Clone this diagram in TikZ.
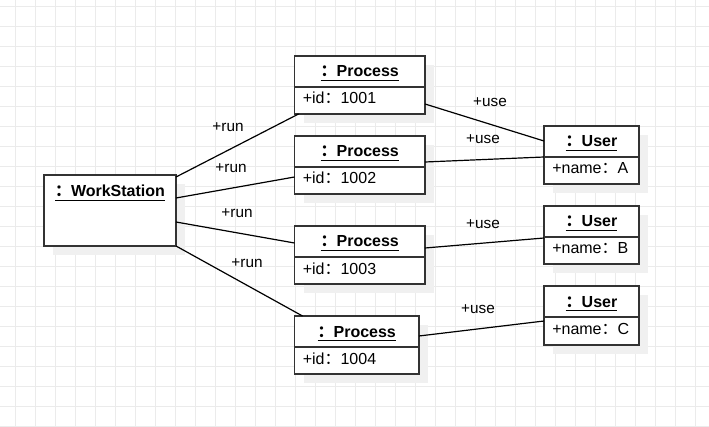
\documentclass[tikz,border=0pt]{standalone}
\usepackage{fontspec}
\setmainfont{Liberation Sans}
\newfontfamily\cjkfont{Noto Sans CJK SC}
\usetikzlibrary{calc,shadows}
\newcommand{\ulin}[1]{\setbox0\hbox{#1}\rlap{\rule[-2.7pt]{\wd0}{0.8pt}}\box0}
\newcommand{\cc}{{\cjkfont ：}}
\tikzset{
  gridline/.style={draw=black!8, line width=0.75pt},
  objbox/.style={draw=black!80, line width=1.1pt, fill=white, outer sep=0pt, inner sep=0pt,
    general shadow={fill=black!6, shadow xshift=6.75pt, shadow yshift=-6.75pt}},
  divline/.style={draw=black!80, line width=1.1pt},
  titletext/.style={font=\fontsize{12}{14}\selectfont\bfseries, anchor=base, inner sep=0pt},
  attrtext/.style={font=\fontsize{12}{14}\selectfont, anchor=base west, inner sep=0pt},
  conn/.style={draw=black, line width=0.9pt},
  lbl/.style={font=\fontsize{11.5}{13}\selectfont, inner sep=0pt},
}
\newcommand{\objnode}[8]{%
  \node[objbox, minimum width=#4*0.75pt, minimum height=#5*0.75pt] (#1) at (#2+#4/2, #3+#5/2) {};
  \draw[divline] ($(#1.north west)+(0,#6)$) -- ($(#1.north east)+(0,#6)$);
  \node[titletext] (#1-t) at ($(#1.north)+(0,21)$) {\ulin{\cc #7}};
  \node[attrtext] (#1-a) at ($(#1.north west)+(8,48)$) {#8};
}
\begin{document}
\begin{tikzpicture}[x=0.75pt, y=-0.75pt]
  \useasboundingbox (0,0) rectangle (709,427);
  \fill[white] (0,0) rectangle (709,427);
  \foreach \i in {0,...,34} \draw[gridline] (15.5+20*\i,0) -- (15.5+20*\i,427);
  \foreach \j in {0,...,21} \draw[gridline] (0,6.3+20*\j) -- (709,6.3+20*\j);

  % WorkStation
  \node[objbox, minimum width=132*0.75pt, minimum height=71*0.75pt] (ws) at (44+66, 175+35.5) {};
  \node[titletext] (ws-t) at ($(ws.north)+(0,22)$) {\ulin{\cc WorkStation}};

  % Processes
  \objnode{p1}{294.5}{56}{130.5}{58}{31}{Process}{+id\cc 1001}
  \objnode{p2}{294.5}{136}{130.5}{58}{31}{Process}{+id\cc 1002}
  \objnode{p3}{294.5}{226}{130.5}{58}{31}{Process}{+id\cc 1003}
  \objnode{p4}{294.5}{316}{124.5}{58}{31}{Process}{+id\cc 1004}

  % Users
  \objnode{ua}{544}{126}{95}{58}{31}{User}{+name\cc A}
  \objnode{ub}{544}{206}{95}{58}{31}{User}{+name\cc B}
  \objnode{uc}{544}{286}{95}{59}{31}{User}{+name\cc C}

  % run connectors
  \draw[conn] ($(ws.north east)+(0,2)$) -- ($(p1.south west)+(4,0)$);
  \draw[conn] ($(ws.north east)+(0,23)$) -- ($(p2.north west)+(0,41)$);
  \draw[conn] ($(ws.north east)+(0,47)$) -- ($(p3.north west)+(0,17)$);
  \draw[conn] (ws.south east) -- ($(p4.north west)+(8,0)$);

  % use connectors
  \draw[conn] ($(p1.north east)+(0,48)$) -- ($(ua.north west)+(0,15)$);
  \draw[conn] ($(p2.north east)+(0,26)$) -- ($(ua.north west)+(0,31)$);
  \draw[conn] ($(p3.north east)+(0,22)$) -- ($(ub.north west)+(0,32)$);
  \draw[conn] ($(p4.north east)+(0,20)$) -- ($(uc.north west)+(0,35)$);

  % labels
  \node[lbl] (r1) at (228,127) {+run};
  \node[lbl] (r2) at (231,168) {+run};
  \node[lbl] (r3) at (237,213) {+run};
  \node[lbl] (r4) at (247,263) {+run};
  \node[lbl] (u1) at (490,102) {+use};
  \node[lbl] (u2) at (483,139) {+use};
  \node[lbl] (u3) at (483,224) {+use};
  \node[lbl] (u4) at (478,309) {+use};
\end{tikzpicture}
\end{document}
